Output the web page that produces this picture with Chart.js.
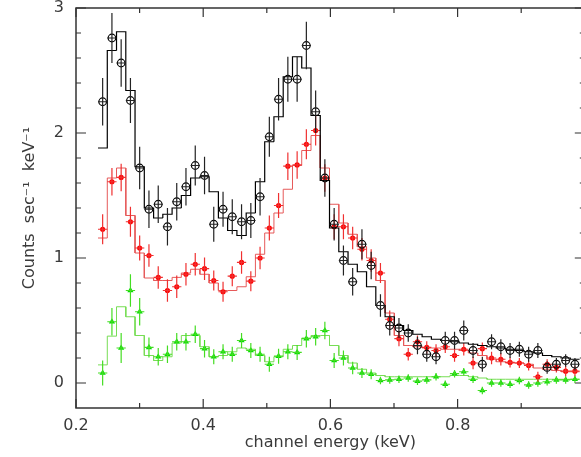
<!DOCTYPE html>
<html><head><meta charset="utf-8">
<script src="https://cdn.jsdelivr.net/npm/chart.js@4.4.1/dist/chart.umd.min.js"></script>
<style>
html,body{margin:0;padding:0;background:#fff;overflow:hidden;width:581px;height:457px}
#wrap{position:absolute;left:0;top:0;width:590px;height:457px}
</style>
</head><body><div id="wrap"><canvas id="c" width="590" height="457"></canvas></div>
<script>
// channel energies (keV), bin centres
const energies = [0.2419,0.2565,0.2710,0.2856,0.3001,0.3147,0.3293,0.3438,0.3584,0.3729,
  0.3875,0.4021,0.4166,0.4312,0.4457,0.4603,0.4749,0.4894,0.5040,0.5185,
  0.5331,0.5477,0.5622,0.5768,0.5913,0.6059,0.6205,0.6350,0.6496,0.6641,
  0.6787,0.6933,0.7078,0.7224,0.7369,0.7515,0.7661,0.7806,0.7952,0.8097,
  0.8243,0.8389,0.8534,0.8680,0.8825,0.8971,0.9117,0.9262,0.9408,0.9553,
  0.9699,0.9845];
const binHalfWidth = 0.0073;

// black spectrum (open circles)
const blackData = [2.25,2.76,2.56,2.26,1.72,1.39,1.43,1.25,1.45,1.57,
  1.74,1.66,1.27,1.39,1.33,1.29,1.30,1.49,1.97,2.27,
  2.43,2.43,2.70,2.17,1.64,1.27,0.98,0.81,1.11,0.94,
  0.62,0.46,0.44,0.40,0.30,0.23,0.21,0.34,0.34,0.42,
  0.26,0.15,0.33,0.29,0.26,0.27,0.23,0.26,0.125,0.15,
  0.18,0.15];
const blackErr = [0.19,0.20,0.19,0.18,0.17,0.15,0.15,0.15,0.15,0.15,
  0.16,0.15,0.14,0.14,0.14,0.14,0.14,0.15,0.16,0.17,
  0.18,0.18,0.19,0.17,0.15,0.13,0.12,0.11,0.12,0.11,
  0.09,0.08,0.08,0.07,0.07,0.06,0.06,0.07,0.07,0.08,
  0.06,0.06,0.06,0.06,0.06,0.06,0.06,0.06,0.05,0.05,
  0.05,0.05];
const blackModel = [1.88,2.66,2.81,2.34,1.73,1.40,1.32,1.35,1.40,1.50,
  1.64,1.65,1.53,1.32,1.22,1.18,1.36,1.61,1.93,2.13,
  2.45,2.61,2.52,2.14,1.62,1.24,1.05,0.95,0.89,0.77,
  0.62,0.53,0.46,0.42,0.39,0.37,0.35,0.34,0.33,0.32,
  0.31,0.30,0.29,0.28,0.27,0.26,0.25,0.24,0.22,0.21,
  0.20,0.19];

// red spectrum (filled circles)
const redData = [1.23,1.61,1.645,1.29,1.08,1.02,0.845,0.74,0.77,0.87,
  0.95,0.915,0.82,0.73,0.855,0.965,0.815,1.00,1.24,1.42,
  1.735,1.745,1.91,2.02,1.64,1.25,1.25,1.16,1.07,0.98,
  0.88,0.51,0.355,0.23,0.33,0.285,0.26,0.29,0.22,0.27,
  0.16,0.275,0.20,0.19,0.165,0.16,0.14,0.05,0.15,0.125,
  0.095,0.095];
const redErr = [0.12,0.11,0.11,0.12,0.10,0.09,0.09,0.09,0.09,0.09,
  0.09,0.09,0.08,0.08,0.08,0.09,0.08,0.09,0.10,0.10,
  0.11,0.11,0.12,0.12,0.11,0.10,0.10,0.09,0.09,0.09,
  0.08,0.07,0.06,0.05,0.05,0.05,0.05,0.05,0.05,0.05,
  0.05,0.05,0.05,0.05,0.04,0.04,0.04,0.04,0.04,0.04,
  0.04,0.04];
const redModel = [1.16,1.64,1.72,1.34,1.04,0.84,0.82,0.82,0.845,0.88,
  0.91,0.87,0.80,0.74,0.74,0.77,0.85,1.03,1.20,1.36,
  1.55,1.74,1.86,1.98,1.72,1.43,1.28,1.19,1.09,1.00,
  0.82,0.56,0.38,0.30,0.29,0.28,0.28,0.27,0.27,0.26,
  0.24,0.22,0.19,0.17,0.16,0.16,0.15,0.12,0.11,0.10,
  0.09,0.09];

// green spectrum (triangles)
const greenData = [0.08,0.49,0.28,0.74,0.57,0.285,0.21,0.23,0.33,0.33,
  0.39,0.275,0.21,0.25,0.23,0.34,0.26,0.23,0.15,0.215,
  0.25,0.245,0.355,0.37,0.42,0.18,0.20,0.12,0.08,0.07,
  0.02,0.025,0.03,0.04,0.015,0.025,0.05,-0.01,0.075,0.09,
  0.03,-0.06,0.0,0.0,-0.01,0.02,-0.015,0.0,0.01,0.025,
  0.025,0.03];
const greenErr = [0.10,0.11,0.12,0.13,0.11,0.08,0.07,0.07,0.07,0.07,
  0.07,0.07,0.06,0.06,0.06,0.06,0.06,0.06,0.06,0.06,
  0.06,0.06,0.07,0.07,0.07,0.06,0.06,0.05,0.04,0.04,
  0.03,0.03,0.03,0.03,0.03,0.03,0.03,0.03,0.03,0.03,
  0.03,0.03,0.03,0.03,0.03,0.03,0.03,0.03,0.03,0.03,
  0.03,0.03];
const greenModel = [0.145,0.375,0.61,0.53,0.38,0.22,0.18,0.21,0.32,0.38,
  0.38,0.29,0.21,0.22,0.25,0.28,0.27,0.22,0.17,0.21,
  0.27,0.30,0.36,0.38,0.38,0.30,0.22,0.16,0.11,0.08,
  0.06,0.05,0.05,0.05,0.05,0.05,0.05,0.05,0.06,0.06,
  0.05,0.04,0.03,0.03,0.03,0.03,0.03,0.03,0.03,0.03,
  0.03,0.03];

// axis ticks
const xMajorTicks = [0.2,0.4,0.6,0.8];
const xMinorTicks = [0.3,0.5,0.7,0.9];
const yMajorTicks = [0,1,2,3];
const yMinorTicks = [0.2,0.4,0.6,0.8,1.2,1.4,1.6,1.8,2.2,2.4,2.6,2.8];

const points = vals => energies.map((e,i)=>({x:e,y:vals[i]}));
const steps = vals => {
  const out=[];
  energies.forEach((e,i)=>{out.push({x:e-binHalfWidth,y:vals[i]});out.push({x:e+binHalfWidth,y:vals[i]});});
  return out;
};

const axisFont = {family:'DejaVu Sans', size:16};
const textColor = '#3a3a3a';

const errorBarPlugin = {
  id:'errbars',
  afterDatasetDraw(chart,args){
    const ds = chart.data.datasets[args.index];
    if(!ds.errY) return;
    const {ctx, chartArea:a, scales:{x,y}} = chart;
    ctx.save();
    ctx.beginPath(); ctx.rect(a.left,a.top,a.right-a.left,a.bottom-a.top); ctx.clip();
    ctx.strokeStyle = ds.errColor; ctx.lineWidth = 1.2;
    ctx.beginPath();
    ds.data.forEach((p,i)=>{
      const px = x.getPixelForValue(p.x), py = y.getPixelForValue(p.y);
      const y1 = y.getPixelForValue(p.y-ds.errY[i]), y2 = y.getPixelForValue(p.y+ds.errY[i]);
      const x1 = x.getPixelForValue(p.x-binHalfWidth), x2 = x.getPixelForValue(p.x+binHalfWidth);
      ctx.moveTo(px,y1); ctx.lineTo(px,y2);
      ctx.moveTo(x1,py); ctx.lineTo(x2,py);
    });
    ctx.stroke();
    ctx.restore();
  }
};

const framePlugin = {
  id:'frame',
  beforeDatasetsDraw(chart){
    const {ctx, chartArea:a, scales:{x,y}} = chart;
    ctx.save();
    ctx.strokeStyle = '#333'; ctx.lineWidth = 1.5;
    ctx.beginPath(); ctx.rect(a.left,a.top,a.right-a.left,a.bottom-a.top); ctx.stroke();
    ctx.lineWidth = 1.2;
    ctx.beginPath();
    const xt = (v,len)=>{const p=x.getPixelForValue(v); ctx.moveTo(p,a.bottom); ctx.lineTo(p,a.bottom-len); ctx.moveTo(p,a.top); ctx.lineTo(p,a.top+len);};
    const yt = (v,len)=>{const p=y.getPixelForValue(v); ctx.moveTo(a.left,p); ctx.lineTo(a.left+len,p); ctx.moveTo(a.right,p); ctx.lineTo(a.right-len,p);};
    xMajorTicks.forEach(v=>xt(v,9)); xMinorTicks.forEach(v=>xt(v,5));
    yMajorTicks.forEach(v=>yt(v,10)); yMinorTicks.forEach(v=>yt(v,5));
    ctx.stroke();
    ctx.restore();
  }
};

new Chart(document.getElementById('c'), {
  type:'scatter',
  data:{datasets:[
    {data:points(blackData), errY:blackErr, errColor:'#222', showLine:false, pointStyle:'circle', pointRadius:3.8, pointBackgroundColor:'rgba(0,0,0,0)', pointBorderColor:'#000', pointBorderWidth:1.2, order:0},
    {data:steps(blackModel), showLine:true, borderColor:'#000', borderWidth:1.2, pointRadius:0, order:1},
    {data:points(redData), errY:redErr, errColor:'#f03030', showLine:false, pointStyle:'circle', pointRadius:2.6, pointBackgroundColor:'#ff0000', pointBorderColor:'#ff0000', pointBorderWidth:0, order:2},
    {data:steps(redModel), showLine:true, borderColor:'#e65a5a', borderWidth:1, pointRadius:0, order:3},
    {data:points(greenData), errY:greenErr, errColor:'#44dd22', showLine:false, pointStyle:'triangle', pointRadius:3.6, pointBackgroundColor:'#00dd00', pointBorderColor:'#00dd00', pointBorderWidth:0, order:4},
    {data:steps(greenModel), showLine:true, borderColor:'#77dd55', borderWidth:1, pointRadius:0, order:5}
  ]},
  options:{
    responsive:false, animation:false,
    layout:{padding:{top:8,right:4.6,left:0,bottom:0}},
    plugins:{legend:{display:false}, tooltip:{enabled:false}},
    scales:{
      x:{type:'linear', min:0.2, max:1.0,
        afterBuildTicks:s=>{s.ticks = xMajorTicks.map(v=>({value:v}));},
        afterFit:s=>{s.height=49; s.paddingLeft=0; s.paddingRight=0;},
        grid:{display:false, drawTicks:false}, border:{display:false},
        ticks:{callback:v=>v.toFixed(1), font:axisFont, color:textColor, padding:8, maxRotation:0, autoSkip:false},
        title:{display:true, text:'channel energy (keV)', font:axisFont, color:textColor, padding:{top:0,bottom:5}}
      },
      y:{type:'linear', min:-0.2, max:3,
        afterBuildTicks:s=>{s.ticks = yMajorTicks.map(v=>({value:v}));},
        afterFit:s=>{s.width=76; s.paddingTop=0; s.paddingBottom=0;},
        grid:{display:false, drawTicks:false}, border:{display:false},
        ticks:{callback:v=>String(v), font:axisFont, color:textColor, padding:12, autoSkip:false},
        title:{display:true, text:'Counts  sec\u207B\u00B9  keV\u207B\u00B9', font:axisFont, color:textColor, padding:{top:20,bottom:0}}
      }
    }
  },
  plugins:[framePlugin, errorBarPlugin]
});
</script></body></html>
